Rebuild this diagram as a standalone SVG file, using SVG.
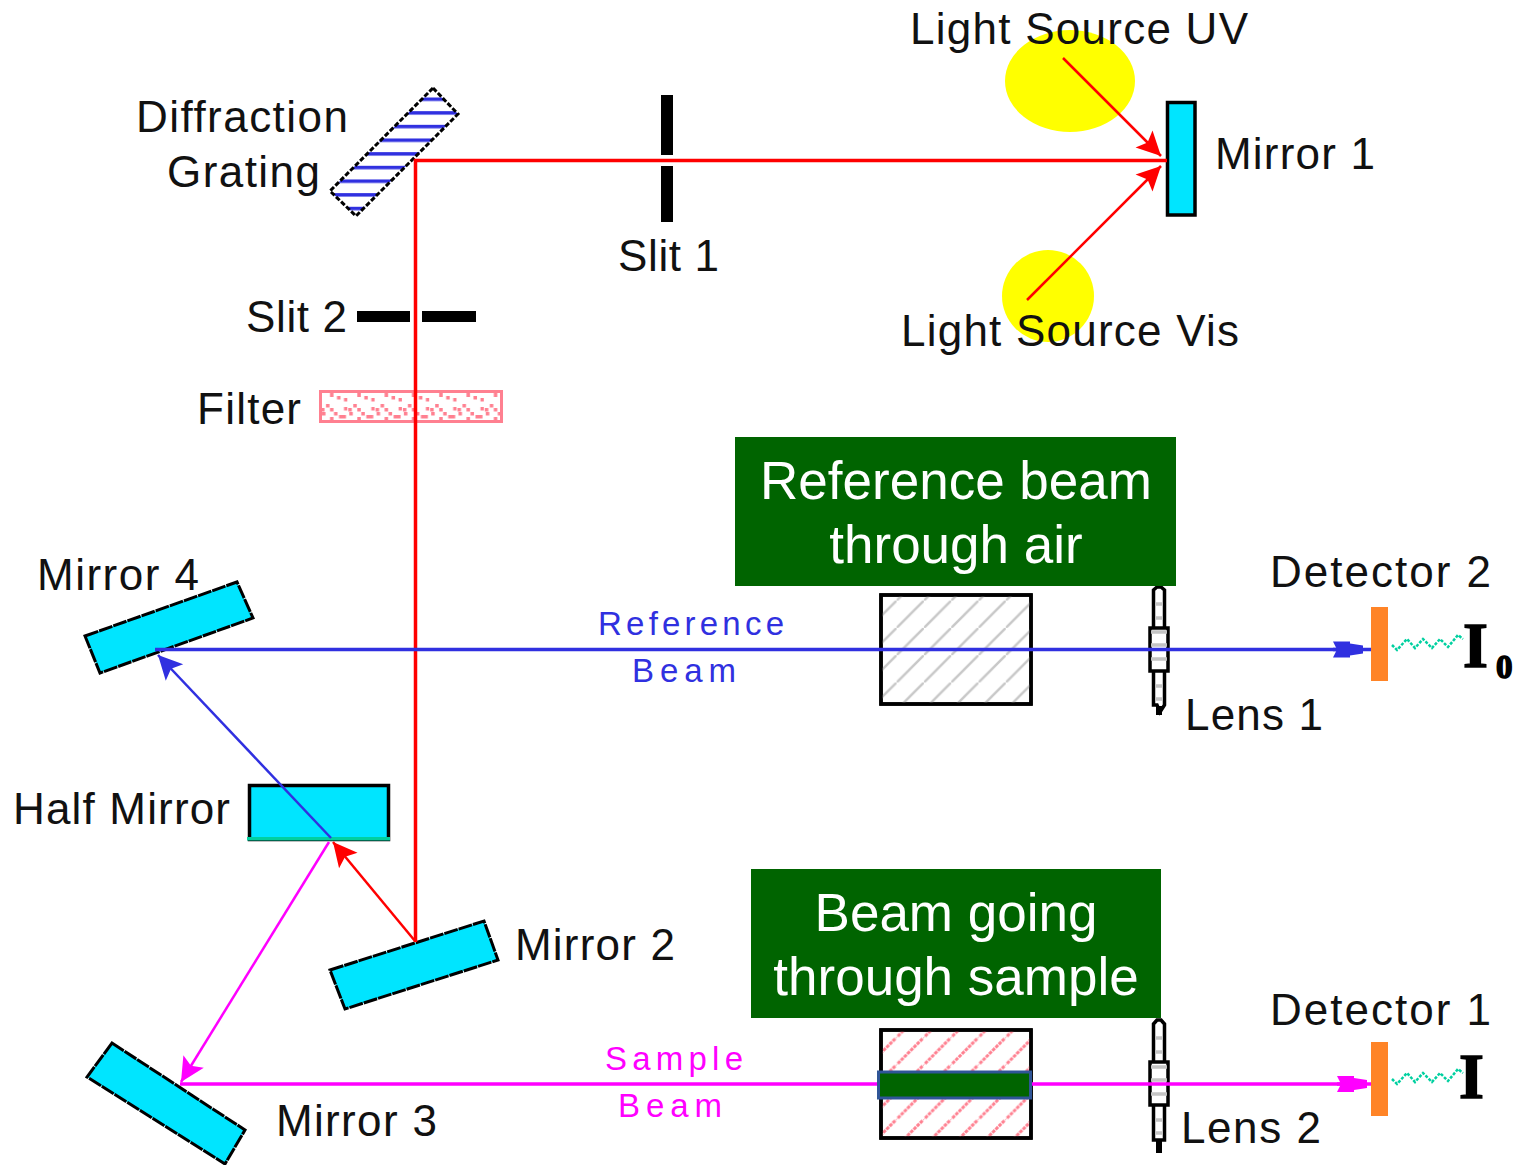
<svg xmlns="http://www.w3.org/2000/svg" width="1524" height="1165" viewBox="0 0 1524 1165">
<style>
.lb{font-family:"Liberation Sans",Arial,sans-serif;font-size:44px;fill:#111}
.sm{font-family:"Liberation Sans",Arial,sans-serif;font-size:33px}
.wh{font-family:"Liberation Sans",Arial,sans-serif;font-size:53px;fill:#fff;text-anchor:middle}
.sym{font-family:"Liberation Serif","Times New Roman",serif;font-weight:bold;fill:#000;stroke:#000;stroke-width:1.5}
.mir{fill:#00e5ff;stroke:#000;stroke-width:3.5}
.mird{fill:#00e5ff;stroke:#000;stroke-width:3;stroke-dasharray:14 1}
.cuv{stroke:#000;stroke-width:3.5}
.ln{fill:none;stroke-linecap:butt}
.box{fill:#006400}
.det{fill:#ff8427}
.slit{fill:#000}
.rung{stroke:#c4c4c4;stroke-width:3.5}
.lensb{fill:#fff;stroke:#000;stroke-width:3.5}
</style>
<defs>
<marker id="hr" markerUnits="userSpaceOnUse" markerWidth="30" markerHeight="30" refX="26" refY="15" orient="auto"><path d="M26,15 L2,3 L7,15 L2,27Z" fill="#f00"/></marker>
<marker id="hb" markerUnits="userSpaceOnUse" markerWidth="30" markerHeight="30" refX="26" refY="15" orient="auto"><path d="M26,15 L2,3 L7,15 L2,27Z" fill="#3030e0"/></marker>
<marker id="hm" markerUnits="userSpaceOnUse" markerWidth="30" markerHeight="30" refX="26" refY="15" orient="auto"><path d="M26,15 L2,3 L7,15 L2,27Z" fill="#f0f"/></marker>
<marker id="db" markerUnits="userSpaceOnUse" markerWidth="34" markerHeight="20" refX="30" refY="10" orient="auto"><path d="M0,2 H17 V4 L30,6 V14 L17,16 V18 H0 L4,10Z" fill="#3030e0"/></marker>
<marker id="dm" markerUnits="userSpaceOnUse" markerWidth="34" markerHeight="20" refX="30" refY="10" orient="auto"><path d="M0,2 H17 V4 L30,6 V14 L17,16 V18 H0 L4,10Z" fill="#f0f"/></marker>
<pattern id="hg" patternUnits="userSpaceOnUse" x="23" y="0" width="27.3" height="27.3"><path d="M-2,29.3 L29.3,-2" stroke="#c8c8c8" stroke-width="2.5"/></pattern>
<pattern id="hp" patternUnits="userSpaceOnUse" x="23" y="0" width="27.3" height="27.3"><path d="M-2,29.3 L29.3,-2" stroke="#ff8090" stroke-width="3" stroke-dasharray="3.500 1"/></pattern>
<pattern id="hz" patternUnits="userSpaceOnUse" x="320" y="97.500" width="40" height="13.66"><rect width="40" height="3.500" fill="#3030e0"/></pattern>
<pattern id="fd" patternUnits="userSpaceOnUse" x="320" y="391" width="27.3" height="31"><g fill="#ff8090"><rect x="10" y="2" width="3.500" height="4"/><rect x="17" y="5" width="3.500" height="3.500"/><rect x="24" y="7" width="3.500" height="3.500"/><rect x="6" y="13" width="3.500" height="3.500"/><rect x="1" y="17" width="3.500" height="3.500"/><rect x="10" y="17" width="3.500" height="3.500"/><rect x="24" y="16" width="3.500" height="3.500"/><rect x="19" y="24" width="7" height="3.500"/><rect x="10" y="26" width="3.500" height="4"/><rect x="14" y="21" width="3.500" height="3.500"/><rect x="2" y="21" width="3.500" height="3.500"/></g></pattern>
<clipPath id="gc"><polygon points="433,88 458,114 356,216 330,191"/></clipPath>
</defs>

<g id="source-uv"><ellipse cx="1070" cy="81" rx="65" ry="51" fill="#ff0"/></g>
<g id="source-vis"><circle cx="1048" cy="296" r="46" fill="#ff0"/></g>

<g id="grating">
<polygon points="433,88 458,114 356,216 330,191" fill="#fff"/>
<rect x="320" y="80" width="150" height="145" fill="url(#hz)" clip-path="url(#gc)"/>
<polygon points="433,88 458,114 356,216 330,191" fill="none" stroke="#000" stroke-width="3" stroke-dasharray="5 2"/>
</g>
<g id="slit-1"><rect class="slit" x="661" y="95" width="12" height="60"/><rect class="slit" x="661" y="166" width="12" height="56"/></g>
<g id="slit-2"><rect class="slit" x="357" y="311" width="53" height="11"/><rect class="slit" x="422" y="311" width="54" height="11"/></g>
<g id="filter"><rect x="320.500" y="391.500" width="181" height="30" fill="url(#fd)" stroke="#ff8090" stroke-width="3"/></g>
<g id="mirror-1"><rect class="mir" x="1167.500" y="102.500" width="27.500" height="112.500"/></g>
<g id="mirror-2"><polygon class="mird" points="330,970 484,921 498,960 345,1009"/></g>
<g id="mirror-3"><polygon class="mird" points="112,1043 245,1130 225,1164 87,1077"/></g>
<g id="mirror-4"><polygon class="mird" points="85,636 237,582 253,618 100,673"/></g>
<g id="half-mirror"><rect class="mir" x="249.500" y="785.500" width="139" height="54"/><rect x="247" y="837" width="143" height="3.500" fill="#00d0a0"/></g>
<g id="cell-reference"><rect class="cuv" x="881" y="595" width="150" height="109" fill="#fff"/><rect class="cuv" x="881" y="595" width="150" height="109" fill="url(#hg)"/></g>
<g id="cell-sample"><rect class="cuv" x="881" y="1030" width="150" height="108" fill="#fff"/><rect class="cuv" x="881" y="1030" width="150" height="108" fill="url(#hp)"/></g>
<g id="lens-1">
<path class="lensb" d="M1153.500,590 L1157,587 H1161 L1164.500,590 V705 L1160,712 L1157,705 L1153.500,705Z"/>
<rect class="lensb" x="1150" y="628" width="18" height="43"/>
<path class="rung" d="M1155,604 H1163M1155,618 H1163M1151,632 H1167M1151,645 H1167M1151,659 H1167M1155,686 H1163M1155,699 H1163"/>
<rect x="1156" y="706" width="6" height="9" fill="#000"/>
</g>
<g id="lens-2">
<path class="lensb" d="M1153.500,1024 L1157,1020 H1161 L1164.500,1024 V1140 H1153.500Z"/>
<rect class="lensb" x="1150" y="1062" width="18" height="43"/>
<path class="rung" d="M1155,1038 H1163M1155,1052 H1163M1151,1067 H1167M1151,1080 H1167M1151,1094 H1167M1155,1120 H1163M1155,1133 H1163"/>
<rect x="1156" y="1140" width="6" height="13" fill="#000"/>
</g>
<g id="detector-2"><rect class="det" x="1371" y="607" width="17" height="74"/></g>
<g id="detector-1"><rect class="det" x="1371" y="1042" width="17" height="74"/></g>

<g id="connectors">
<path class="ln" stroke="#f00" stroke-width="3.500" d="M1167,160.500 H415.500 V942"/>
<path class="ln" stroke="#f00" stroke-width="2.500" d="M1063,58 L1161,156" marker-end="url(#hr)"/>
<path class="ln" stroke="#f00" stroke-width="2.500" d="M1027,300 L1161,166" marker-end="url(#hr)"/>
<path class="ln" stroke="#f00" stroke-width="2.500" d="M415,941 L333,842" marker-end="url(#hr)"/>
<path class="ln" stroke="#3030e0" stroke-width="2.500" d="M331,838 L158,655" marker-end="url(#hb)"/>
<path class="ln" stroke="#f0f" stroke-width="2.500" d="M329,842 L181,1082" marker-end="url(#hm)"/>
<path class="ln" stroke="#3030e0" stroke-width="3.500" d="M155,649.500 H1371"/>
<path class="ln" stroke="#3030e0" stroke-width="3.500" d="M1333,649.500 H1363" marker-end="url(#db)"/>
<path class="ln" stroke="#f0f" stroke-width="3.500" d="M180,1084 H1371"/>
<path class="ln" stroke="#f0f" stroke-width="3.500" d="M1337,1084 H1367" marker-end="url(#dm)"/>
<path class="ln" stroke="#00d0a0" stroke-width="2.500" stroke-dasharray="3 1.500" d="M1392,645 L1397,650 L1407,639 L1415,648 L1423,639 L1432,648 L1440,639 L1448,647 L1458,635 L1463,639"/>
<path class="ln" stroke="#00d0a0" stroke-width="2.500" stroke-dasharray="3 1.500" d="M1392,1079 L1397,1084 L1407,1073 L1415,1082 L1423,1073 L1432,1082 L1440,1073 L1448,1081 L1458,1069 L1463,1073"/>
</g>

<g id="sample-window"><rect x="878.500" y="1072" width="152" height="26" fill="#006400" stroke="#2f5597" stroke-width="3"/></g>
<g id="note-reference"><rect class="box" x="735" y="437" width="441" height="149"/><text class="wh" x="956" y="499">Reference beam</text><text class="wh" x="956" y="563">through air</text></g>
<g id="note-sample"><rect class="box" x="751" y="869" width="410" height="149"/><text class="wh" x="956" y="931">Beam going</text><text class="wh" x="956" y="995">through sample</text></g>

<g id="labels">
<text class="lb" x="910" y="44" textLength="338">Light Source UV</text>
<text class="lb" x="136" y="132" textLength="212">Diffraction</text>
<text class="lb" x="167" y="187" textLength="153">Grating</text>
<text class="lb" x="1215" y="169" textLength="160">Mirror 1</text>
<text class="lb" x="618" y="271" textLength="101">Slit 1</text>
<text class="lb" x="246" y="332" textLength="101">Slit 2</text>
<text class="lb" x="901" y="346" textLength="338">Light Source Vis</text>
<text class="lb" x="197" y="424" textLength="104">Filter</text>
<text class="lb" x="37" y="590" textLength="162">Mirror 4</text>
<text class="lb" x="1270" y="587" textLength="221">Detector 2</text>
<text class="lb" x="1185" y="730" textLength="138">Lens 1</text>
<text class="lb" x="13" y="824" textLength="217">Half Mirror</text>
<text class="lb" x="515" y="960" textLength="160">Mirror 2</text>
<text class="lb" x="276" y="1136" textLength="161">Mirror 3</text>
<text class="lb" x="1270" y="1025" textLength="221">Detector 1</text>
<text class="lb" x="1181" y="1143" textLength="140">Lens 2</text>
<text class="sm" x="598" y="635" textLength="186" fill="#3030e0">Reference</text>
<text class="sm" x="632" y="682" textLength="104" fill="#3030e0">Beam</text>
<text class="sm" x="605" y="1070" textLength="138" fill="#f0f">Sample</text>
<text class="sm" x="618" y="1117" textLength="104" fill="#f0f">Beam</text>
<text class="sym" x="1463" y="667" font-size="64">I</text>
<text class="sym" x="1496" y="678" font-size="33">0</text>
<text class="sym" x="1459" y="1098" font-size="64">I</text>
</g>
</svg>
